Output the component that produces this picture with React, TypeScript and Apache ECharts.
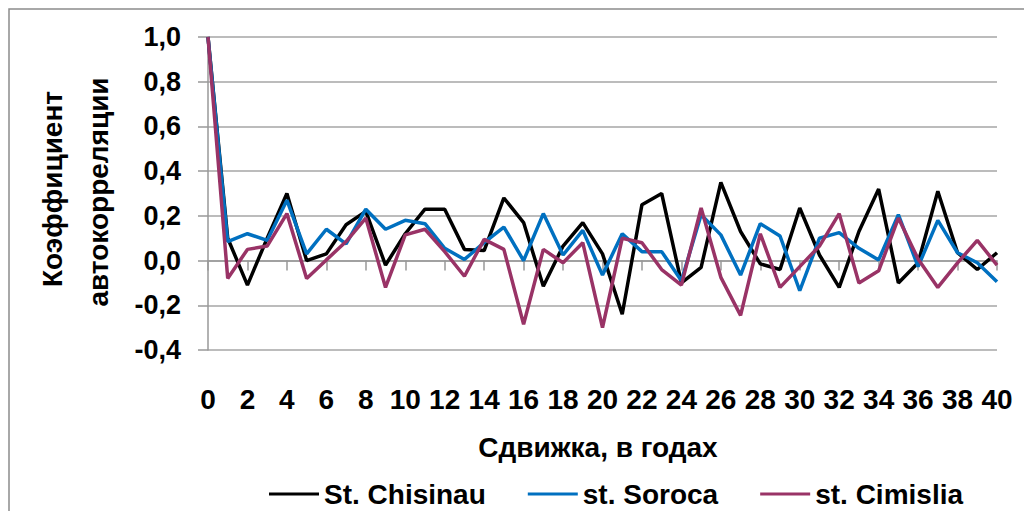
import React, { useEffect, useRef } from "react";
import * as echarts from "echarts";

const lags = Array.from({ length: 41 }, (_, i) => String(i));

const chisinau = [1.0, 0.1, -0.11, 0.1, 0.3, 0.0, 0.03, 0.16, 0.22, -0.02, 0.12, 0.23, 0.23, 0.05, 0.045, 0.28, 0.17, -0.115, 0.065, 0.17, 0.03, -0.24, 0.25, 0.3, -0.1, -0.03, 0.35, 0.13, -0.015, -0.04, 0.235, 0.025, -0.12, 0.13, 0.32, -0.1, -0.01, 0.31, 0.035, -0.04, 0.035];

const soroca = [1.0, 0.085, 0.12, 0.09, 0.27, 0.03, 0.14, 0.075, 0.23, 0.14, 0.18, 0.165, 0.055, 0.005, 0.08, 0.15, 0.0, 0.21, 0.025, 0.135, -0.065, 0.12, 0.04, 0.04, -0.09, 0.205, 0.115, -0.065, 0.165, 0.11, -0.135, 0.1, 0.125, 0.055, 0.003, 0.205, -0.027, 0.18, 0.035, -0.01, -0.095];

const cimislia = [1.0, -0.08, 0.05, 0.065, 0.21, -0.08, 0.003, 0.085, 0.19, -0.12, 0.115, 0.14, 0.04, -0.07, 0.095, 0.05, -0.285, 0.05, -0.01, 0.08, -0.3, 0.1, 0.08, -0.04, -0.11, 0.235, -0.075, -0.245, 0.12, -0.12, -0.027, 0.065, 0.21, -0.1, -0.046, 0.19, 0.007, -0.12, -0.01, 0.09, -0.02];

const seriesNames = ["St. Chisinau", "st. Soroca", "st. Cimislia"];
const seriesColors = ["#000000", "#0070C0", "#993366"];

const FONT = "'Liberation Sans', Arial, sans-serif";

export default function App() {
  const ref = useRef<HTMLDivElement>(null);
  useEffect(() => {
    if (!ref.current) return;
    const chart = echarts.init(ref.current, null, { renderer: "svg" });
    const datasets = [chisinau, soroca, cimislia];
    chart.setOption({
      animation: false,
      backgroundColor: "#ffffff",
      grid: { left: 208, right: 27, top: 37, bottom: 161, containLabel: false },
      xAxis: {
        type: "category",
        data: lags,
        boundaryGap: false,
        axisLine: { show: true, lineStyle: { color: "#999999", width: 1.5 } },
        axisTick: { show: true, interval: 1, length: 10, lineStyle: { color: "#999999", width: 1.5 } },
        axisLabel: {
          interval: 1,
          margin: 35,
          color: "#000",
          fontSize: 28,
          fontWeight: "bold",
          fontFamily: FONT,
        },
        splitLine: { show: false },
      },
      yAxis: {
        type: "value",
        min: -0.4,
        max: 1.0,
        interval: 0.2,
        axisLine: { show: true, lineStyle: { color: "#999999", width: 1.5 } },
        axisTick: { show: true, length: 10, lineStyle: { color: "#999999", width: 1.5 } },
        axisLabel: {
          margin: 27,
          color: "#000",
          fontSize: 27,
          fontWeight: "bold",
          fontFamily: FONT,
          formatter: (v: number) => v.toFixed(1).replace(".", ","),
        },
        splitLine: { show: true, lineStyle: { color: "#a6a6a6", width: 1.5 } },
      },
      legend: {
        left: 269,
        top: 480,
        icon: "rect",
        itemWidth: 50,
        itemHeight: 3,
        itemGap: 42,
        padding: 0,
        data: seriesNames,
        textStyle: {
          color: "#000",
          fontSize: 28,
          lineHeight: 26,
          fontWeight: "bold",
          fontFamily: FONT,
        },
      },
      series: datasets.map((d, i) => ({
        name: seriesNames[i],
        type: "line",
        data: d,
        symbol: "none",
        lineStyle: { color: seriesColors[i], width: 3.5 },
        itemStyle: { color: seriesColors[i] },
      })),
      graphic: [
        {
          type: "rect",
          shape: { x: 9, y: 9, width: 1040, height: 540 },
          style: { fill: "none", stroke: "#8c8c8c", lineWidth: 1.5 },
          silent: true,
        },
        {
          type: "text",
          x: 52,
          y: 189,
          rotation: Math.PI / 2,
          style: {
            text: "Коэффициент",
            fill: "#000",
            fontSize: 28,
            fontWeight: "bold",
            fontFamily: FONT,
            align: "center",
            verticalAlign: "middle",
          },
        },
        {
          type: "text",
          x: 98,
          y: 192,
          rotation: Math.PI / 2,
          style: {
            text: "автокорреляции",
            fill: "#000",
            fontSize: 28,
            fontWeight: "bold",
            fontFamily: FONT,
            align: "center",
            verticalAlign: "middle",
          },
        },
        {
          type: "text",
          x: 598,
          y: 447,
          style: {
            text: "Сдвижка, в годах",
            fill: "#000",
            fontSize: 28,
            fontWeight: "bold",
            fontFamily: FONT,
            align: "center",
            verticalAlign: "middle",
          },
        },
      ],
    });
    return () => chart.dispose();
  }, []);
  return (
    <div
      ref={ref}
      style={{ position: "fixed", left: 0, top: 0, width: 1024, height: 511 }}
    />
  );
}
